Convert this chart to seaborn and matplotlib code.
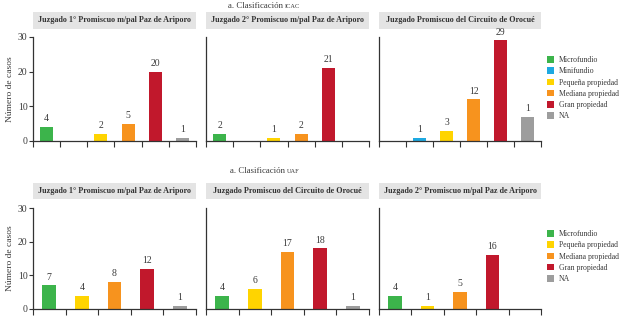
import seaborn as sns
import pandas as pd
import matplotlib.pyplot as plt
from matplotlib.patches import Patch

#-----------------------------------------------------------------------------------------------------------------------
"""Data"""
cats_icac = ['Microfundio', 'Minifundio', 'Pequeña propiedad', 'Mediana propiedad', 'Gran propiedad', 'NA']
cats_uaf = ['Microfundio', 'Pequeña propiedad', 'Mediana propiedad', 'Gran propiedad', 'NA']

titles_icac = ['Juzgado 1° Promiscuo m/pal Paz de Ariporo',
               'Juzgado 2° Promiscuo m/pal Paz de Ariporo',
               'Juzgado Promiscuo del Circuito de Orocué']
titles_uaf = ['Juzgado 1° Promiscuo m/pal Paz de Ariporo',
              'Juzgado Promiscuo del Circuito de Orocué',
              'Juzgado 2° Promiscuo m/pal Paz de Ariporo']

# bar heights as drawn
icac_vals = [[4, 0, 2, 5, 20, 1],
             [2, 0, 1, 2, 21, 0],
             [0, 1, 3, 12, 29, 7]]
# printed labels (the NA bar in Orocué is labelled 1)
icac_lbls = [[4, None, 2, 5, 20, 1],
             [2, None, 1, 2, 21, None],
             [None, 1, 3, 12, 29, 1]]

uaf_vals = [[7, 4, 8, 12, 1],
            [4, 6, 17, 18, 1],
            [4, 1, 5, 16, 0]]
uaf_lbls = [[7, 4, 8, 12, 1],
            [4, 6, 17, 18, 1],
            [4, 1, 5, 16, None]]

yticks = [0, 10, 20, 30]

#-----------------------------------------------------------------------------------------------------------------------
"""Style"""
colors = {'Microfundio': '#3cb44b', 'Minifundio': '#1ea9e1', 'Pequeña propiedad': '#ffd400',
          'Mediana propiedad': '#f7931e', 'Gran propiedad': '#c1182c', 'NA': '#9d9d9d'}
MyFont = 'Liberation Serif'
txt = '#3a3a3a'

W, H = 624, 320
fig = plt.figure(figsize=(W / 100, H / 100), dpi=100)
fig.patch.set_facecolor('white')


def px(x0, y0, x1, y1):
    return [x0 / W, 1 - y1 / H, (x1 - x0) / W, (y1 - y0) / H]


def panel(rect, strip_y, cats, vals, lbls, title, first, bw):
    # strip title (drawn underneath the plot axes so labels sit on top)
    x0, _, x1, _ = rect
    sax = fig.add_axes(px(x0, strip_y[0], x1, strip_y[1]))
    sax.set_zorder(0)
    sax.set_facecolor('#e4e4e4')
    sax.set_xticks([])
    sax.set_yticks([])
    for s in sax.spines.values():
        s.set_visible(False)
    sax.text(0.5, 0.5, title, ha='center', va='center', transform=sax.transAxes,
             fontsize=5.9, family=MyFont, fontweight='bold', color='#333333')

    ax = fig.add_axes(px(*rect))
    ax.set_zorder(1)
    ax.patch.set_alpha(0)
    df = pd.DataFrame({'cat': cats, 'n': vals})
    sns.barplot(data=df, x='cat', y='n', hue='cat', order=cats, hue_order=cats,
                palette=colors, ax=ax, legend=False, width=bw, linewidth=0, dodge=False,
                saturation=1)
    ax.set_ylim(0, 30)
    ax.set_xlim(-0.5, len(cats) - 0.5)
    for i, l in enumerate(lbls):
        if l is not None:
            ax.text(i, vals[i] + 1.1, str(l), ha='center', va='bottom',
                    fontsize=7, family=MyFont, color=txt)
    ax.set_xticks([i - 0.5 for i in range(len(cats) + 1)])
    ax.set_xticklabels([])
    ax.tick_params(axis='x', length=4, width=0.8, color='#333333', direction='out')
    if first:
        ax.set_yticks(yticks)
        ax.set_yticklabels([str(t) for t in yticks], family=MyFont, fontsize=7, color=txt)
        ax.tick_params(axis='y', length=3, width=0.8, color='#333333', pad=1)
        ax.set_ylabel('Número de casos', family=MyFont, fontsize=6.8, color=txt, labelpad=3)
    else:
        ax.set_yticks([])
        ax.set_ylabel('')
    ax.set_xlabel('')
    for s in ['top', 'right']:
        ax.spines[s].set_visible(False)
    for s in ['left', 'bottom']:
        ax.spines[s].set_color('#333333')
        ax.spines[s].set_linewidth(0.9)
    return ax


xs = [(33, 196), (206, 369), (379, 541)]

# top row
for k in range(3):
    panel((xs[k][0], 37, xs[k][1], 141), (12, 29), cats_icac, icac_vals[k], icac_lbls[k],
          titles_icac[k], k == 0, 0.48)

# bottom row
for k in range(3):
    panel((xs[k][0], 208, xs[k][1], 309), (183, 199), cats_uaf, uaf_vals[k], uaf_lbls[k],
          titles_uaf[k], k == 0, 0.42)

# section titles
fig.text(283 / W, 1 - 6 / H, 'a. Clasificación', ha='right', va='center',
         fontsize=6.3, family=MyFont, color=txt)
fig.text(285 / W, 1 - 6.5 / H, 'ICAC', ha='left', va='center',
         fontsize=4.6, family=MyFont, color=txt)
fig.text(285 / W, 1 - 171 / H, 'a. Clasificación', ha='right', va='center',
         fontsize=6.3, family=MyFont, color=txt)
fig.text(287 / W, 1 - 171.5 / H, 'UAF', ha='left', va='center',
         fontsize=4.6, family=MyFont, color=txt)

# legends
for cats, ytop in [(cats_icac, 56), (cats_uaf, 230)]:
    handles = [Patch(facecolor=colors[c], edgecolor='none') for c in cats]
    fig.legend(handles, cats, loc='upper left', bbox_to_anchor=(547 / W, 1 - ytop / H),
               frameon=False, prop={'family': MyFont, 'size': 5.6}, labelcolor=txt,
               handlelength=0.9, handleheight=0.9, handletextpad=0.6, labelspacing=0.42,
               borderpad=0, borderaxespad=0)

fig.savefig('out.png', dpi=100, facecolor='white')
